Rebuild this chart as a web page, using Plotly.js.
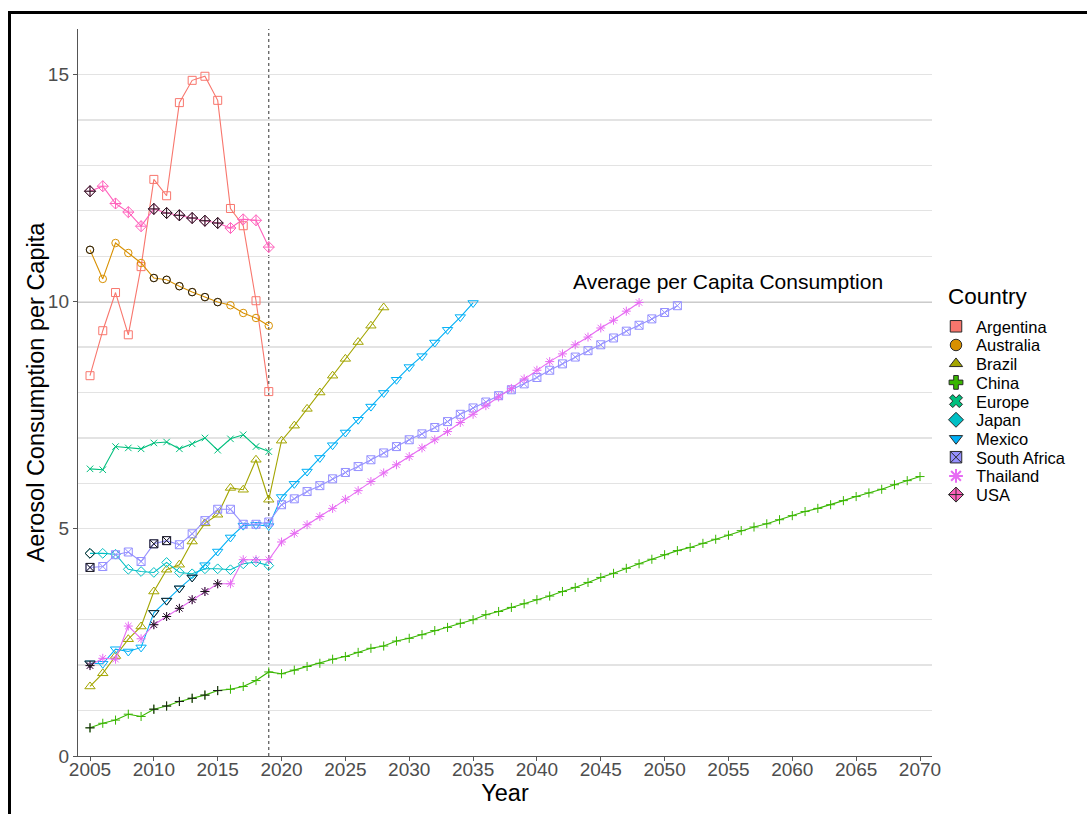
<!DOCTYPE html>
<html>
<head>
<meta charset="utf-8">
<script src="https://cdn.plot.ly/plotly-3.0.1.min.js"></script>
<style>
html,body{margin:0;padding:0;background:#fff;overflow:hidden;}
#chart{position:absolute;left:0;top:0;width:1087px;height:814px;}
#frame{position:absolute;left:8px;top:11px;width:1200px;height:900px;border-left:3px solid #000;border-top:3px solid #000;pointer-events:none;z-index:5;}
</style>
</head>
<body>
<div id="chart"></div>
<div id="frame"></div>
<script>
// ---------- data ----------
const years = [2005,2006,2007,2008,2009,2010,2011,2012,2013,2014,2015,2016,2017,2018,2019,
  2020,2021,2022,2023,2024,2025,2026,2027,2028,2029,2030,2031,2032,2033,2034,2035,2036,2037,2038,2039,
  2040,2041,2042,2043,2044,2045,2046,2047,2048,2049,2050,2051,2052,2053,2054,2055,2056,2057,2058,2059,
  2060,2061,2062,2063,2064,2065,2066,2067,2068,2069,2070];

const countries = ["Argentina","Australia","Brazil","China","Europe","Japan","Mexico","South Africa","Thailand","USA"];
const colors = ["#F8766D","#D89000","#A3A500","#39B600","#00BF7D","#00BFC4","#00B0F6","#9590FF","#E76BF3","#FF62BC"];

// values start at 2005, one per year
const argentina = [8.37,9.36,10.2,9.27,10.77,12.69,12.33,14.38,14.87,14.96,14.43,12.05,11.67,10.02,8.02];
const australia = [11.14,10.5,11.29,11.07,10.85,10.52,10.48,10.34,10.21,10.1,9.99,9.92,9.75,9.64,9.47];
const brazil = [1.53,1.82,2.2,2.57,2.85,3.62,4.1,4.21,4.72,5.12,5.31,5.9,5.86,6.52,5.64,
  6.94,7.27,7.64,8.0,8.37,8.74,9.11,9.47,9.87];
const china = [0.62,0.72,0.79,0.92,0.87,1.03,1.1,1.2,1.27,1.34,1.44,1.47,1.53,1.66,1.85,
  1.81,1.89,1.97,2.04,2.13,2.19,2.28,2.37,2.42,2.53,2.59,2.67,2.76,2.83,2.92,3.0,3.11,3.18,3.27,3.35,
  3.44,3.52,3.62,3.71,3.82,3.93,4.02,4.13,4.23,4.33,4.43,4.52,4.59,4.68,4.77,4.86,4.96,5.04,5.11,5.2,
  5.29,5.38,5.45,5.53,5.62,5.71,5.79,5.87,5.97,6.06,6.15];
const europe = [6.32,6.3,6.81,6.78,6.76,6.89,6.91,6.76,6.87,7.0,6.73,6.98,7.07,6.81,6.7];
const japan = [4.46,4.46,4.44,4.11,4.06,4.04,4.26,4.04,4.01,4.12,4.12,4.1,4.23,4.27,4.19];
const mexico = [2.04,2.03,2.35,2.3,2.39,3.15,3.42,3.69,3.93,4.2,4.5,4.81,5.07,5.09,5.06,
  5.7,5.99,6.26,6.56,6.84,7.12,7.4,7.69,7.99,8.28,8.56,8.8,9.1,9.38,9.66,9.97];
const southAfrica = [4.15,4.17,4.43,4.49,4.28,4.67,4.74,4.65,4.89,5.18,5.43,5.43,5.1,5.1,5.15,
  5.53,5.66,5.82,5.95,6.1,6.24,6.37,6.52,6.67,6.81,6.96,7.09,7.23,7.36,7.52,7.66,7.79,7.93,8.06,8.19,
  8.33,8.49,8.63,8.78,8.92,9.05,9.2,9.35,9.48,9.62,9.76,9.91];
const thailand = [1.99,2.15,2.13,2.86,2.58,2.89,3.07,3.25,3.44,3.62,3.79,3.79,4.32,4.32,4.32,
  4.71,4.9,5.09,5.27,5.45,5.65,5.84,6.04,6.23,6.41,6.59,6.78,6.96,7.14,7.34,7.52,7.71,7.9,8.09,8.3,
  8.49,8.68,8.85,9.05,9.22,9.42,9.59,9.79,9.98];
const usa = [12.43,12.54,12.16,11.97,11.66,12.04,11.95,11.9,11.84,11.78,11.73,11.62,11.81,11.79,11.2];

// years whose points are drawn in black on top
const blackArgentina = [];
const blackAustralia = [2005,2010,2011,2012,2013,2014,2015];
const blackBrazil = [];
const blackChina = [2005,2010,2011,2012,2013,2014,2015];
const blackEurope = [];
const blackJapan = [2005];
const blackMexico = [2005,2010,2011,2012,2013];
const blackSouthAfrica = [2005,2010,2011];
const blackThailand = [2005,2010,2011,2012,2013,2014,2015];
const blackUSA = [2005,2010,2011,2012,2013,2014,2015];

const averageLevel = 10;
const cutoffYear = 2019;
const averageLabel = "Average per Capita Consumption";

// ---------- styling ----------
const series = [argentina,australia,brazil,china,europe,japan,mexico,southAfrica,thailand,usa];
const blacks = [blackArgentina,blackAustralia,blackBrazil,blackChina,blackEurope,blackJapan,blackMexico,blackSouthAfrica,blackThailand,blackUSA];
const openSymbols = ["square-open","circle-open","triangle-up-open","cross-thin-open","x-thin-open","diamond-open","triangle-down-open","square-x-open","asterisk-open","diamond-cross-open"];
const legendSymbols = ["square","circle","triangle-up","cross","x","diamond","triangle-down","square-x","asterisk-open","diamond-cross"];
const sizes = [8,7.5,9,6.5,6.5,7.5,9,8,7.5,8.5];
const FONT = "Liberation Sans, Arial, sans-serif";

const data = [];
series.forEach((vals, i) => {
  data.push({
    x: years.slice(0, vals.length), y: vals, type: "scatter", mode: "lines+markers",
    showlegend: false, hoverinfo: "skip",
    line: {color: colors[i], width: 1.1},
    marker: {symbol: openSymbols[i], size: sizes[i], color: colors[i], line: {color: colors[i], width: 1}}
  });
});
series.forEach((vals, i) => {
  const b = blacks[i];
  if (!b.length) return;
  data.push({
    x: b, y: b.map(yr => vals[years.indexOf(yr)]), type: "scatter", mode: "markers",
    showlegend: false, hoverinfo: "skip",
    marker: {symbol: openSymbols[i], size: sizes[i], color: "#1a1a1a", line: {color: "#1a1a1a", width: 1}}
  });
});
countries.forEach((name, i) => {
  data.push({
    x: [null], y: [null], type: "scatter", mode: "markers", name: name,
    marker: {symbol: legendSymbols[i], size: 11.5, color: colors[i],
      line: {color: i === 8 ? colors[i] : "#2a2a2a", width: i === 8 ? 2 : 1}}
  });
});

const LEGEND_LEFT = 936;   // px, final left edge of legend block
const LEGEND_ROW = 18.7;   // px between legend rows

const layout = {
  width: 1087, height: 814,
  margin: {l: 78, r: 155, t: 29, b: 58},
  paper_bgcolor: "#fff", plot_bgcolor: "#fff",
  font: {family: FONT, color: "#000"},
  showlegend: true,
  legend: {
    x: 0.96, xanchor: "left", y: 0.655, yanchor: "top",
    bgcolor: "rgba(0,0,0,0)", borderwidth: 0,
    font: {size: 16.5, family: FONT, color: "#000"},
    title: {text: "Country", font: {size: 22.5, family: FONT, color: "#000"}},
    itemclick: false, itemdoubleclick: false
  },
  xaxis: {
    range: [2004.06, 2070.94], tick0: 2005, dtick: 5, showgrid: false, zeroline: false,
    showline: true, linecolor: "#555", linewidth: 1.2,
    ticks: "outside", ticklen: 4, tickwidth: 1, tickcolor: "#555",
    ticklabelstandoff: -8,
    tickfont: {size: 19, color: "#4D4D4D", family: FONT},
    automargin: true,
    title: {text: "Year", font: {size: 23.5, color: "#000", family: FONT}, standoff: 0}
  },
  yaxis: {
    range: [0, 16], tick0: 0, dtick: 5, zeroline: false,
    showgrid: true, gridcolor: "#E3E3E3", gridwidth: 1.3,
    minor: {dtick: 1, showgrid: true, gridcolor: "#E3E3E3", gridwidth: 1.3, ticks: ""},
    showline: true, linecolor: "#555", linewidth: 1.2,
    ticks: "outside", ticklen: 4, tickwidth: 1, tickcolor: "#555",
    tickfont: {size: 19, color: "#4D4D4D", family: FONT},
    automargin: true,
    title: {text: "Aerosol Consumption per Capita", font: {size: 23.5, color: "#000", family: FONT}, standoff: 0}
  },
  shapes: [
    {type: "line", xref: "paper", x0: 0, x1: 1, yref: "y", y0: averageLevel, y1: averageLevel,
     line: {color: "#333", width: 1.2}, layer: "below"},
    {type: "line", xref: "x", x0: cutoffYear, x1: cutoffYear, yref: "paper", y0: 0, y1: 1,
     line: {color: "#444", width: 1.1, dash: "dot"}, layer: "below"}
  ],
  annotations: [
    {x: 2054.93, y: 10.45, xref: "x", yref: "y", text: averageLabel, showarrow: false,
     xanchor: "center", yanchor: "middle", font: {size: 21, color: "#000", family: FONT}}
  ]
};

const TR = /translate\(\s*([-\d.]+)[ ,]+([-\d.]+)\s*\)/;
Plotly.newPlot("chart", data, layout, {staticPlot: true, displayModeBar: false}).then(gd => {
  // place legend block to the right of the panel
  const leg = gd.querySelector(".legend");
  if (leg) {
    const m = TR.exec(leg.getAttribute("transform") || "");
    if (m) leg.setAttribute("transform", "translate(" + LEGEND_LEFT + "," + parseFloat(m[2]) + ")");
  }
  // tighten legend row spacing to match ggplot key height
  const items = gd.querySelectorAll(".legend .traces");
  if (items.length) {
    const m = TR.exec(items[0].getAttribute("transform") || "");
    if (m) {
      const x0 = parseFloat(m[1]), y0 = parseFloat(m[2]);
      items.forEach((g, i) => g.setAttribute("transform", "translate(" + x0 + "," + (y0 + i * LEGEND_ROW) + ")"));
    }
  }
  const title = gd.querySelector(".legend .legendtitletext");
  if (title) {
    const t = title.getAttribute("transform") || "";
    title.setAttribute("transform", (t + " translate(10,-5)").trim());
  }
  // nudge y-axis title slightly towards the axis
  const yt = gd.querySelector(".g-ytitle");
  if (yt) yt.setAttribute("transform", "translate(4,0)");
});
</script>
</body>
</html>
